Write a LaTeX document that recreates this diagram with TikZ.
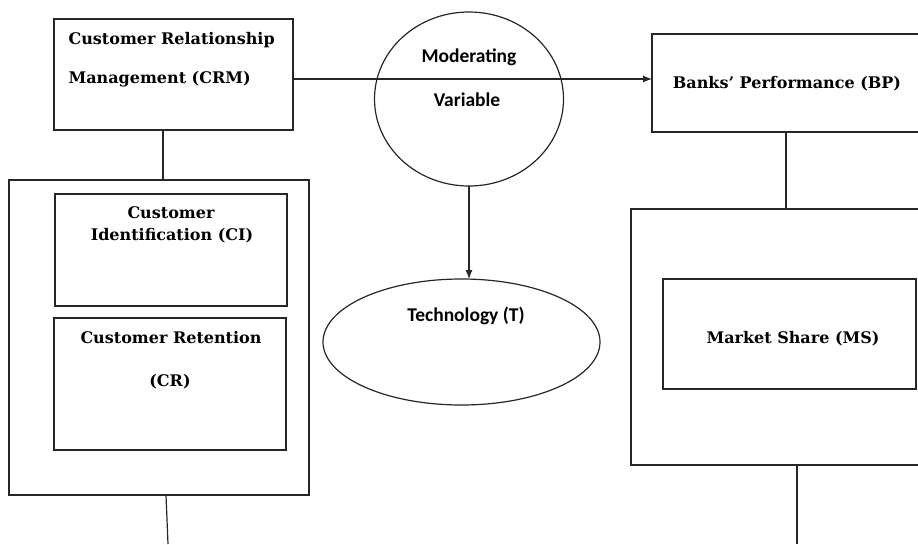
\documentclass[tikz,border=0pt]{standalone}
\usepackage{fontspec}
\newfontfamily\serifbox{DejaVu Serif}
\newfontfamily\calbox{Carlito}
\usetikzlibrary{arrows.meta,calc,shapes.geometric}
\begin{document}
\begin{tikzpicture}[x=1pt, y=-1pt, line width=1.2pt,
	box/.style={draw=black!85, inner sep=0pt, outer sep=0pt},
	oval/.style={draw=black!85, ellipse, inner sep=0pt, outer sep=0pt},
	txt/.style={font=\serifbox\bfseries\fontsize{16}{19}\selectfont, inner sep=0pt},
	ctxt/.style={font=\calbox\bfseries\fontsize{19.5}{23}\selectfont, inner sep=0pt}]
	\useasboundingbox (0,0) rectangle (918,544);
	\clip (0,0) rectangle (918,544);
	\node[box, minimum width=239pt, minimum height=111pt] (CRM) at (173.5,74.5) {};
	\node[box, minimum width=300pt, minimum height=315pt] (L) at (159,337.5) {};
	\node[box, minimum width=232pt, minimum height=112pt] (CI) at (171,250) {};
	\node[box, minimum width=232pt, minimum height=132pt] (CR) at (170,384) {};
	\node[oval, minimum width=189pt, minimum height=174pt] (MV) at (469,99) {};
	\node[oval, minimum width=277pt, minimum height=126pt] (T) at (461.5,342) {};
	\node[box, minimum width=288pt, minimum height=98pt] (BP) at (796,83) {};
	\node[box, minimum width=310pt, minimum height=256pt] (R) at (786,337) {};
	\node[box, minimum width=253pt, minimum height=110pt] (MS) at (789.5,334) {};
	\node[txt, anchor=base west] (crm1) at (68,44) {Customer Relationship};
	\node[txt, anchor=base west] (crm2) at (68,83) {Management (CRM)};
	\node[txt, anchor=base] (ci1) at (171,218) {Customer};
	\node[txt, anchor=base] (ci2) at (172,240) {Identification (CI)};
	\node[txt, anchor=base] (cr1) at (171,343) {Customer Retention};
	\node[txt, anchor=base] (cr2) at (170,386) {(CR)};
	\node[txt, anchor=base] (bp) at (787,88) {Banks’ Performance (BP)};
	\node[txt, anchor=base] (ms) at (793,343) {Market Share (MS)};
	\node[ctxt, anchor=base] (mv1) at (469,62) {Moderating};
	\node[ctxt, anchor=base] (mv2) at (467,106) {Variable};
	\node[ctxt, anchor=base] (t) at (466,321) {Technology (T)};
	\coordinate (mid) at (0,79);
	\coordinate (endL) at (168,544);
	\coordinate (endR) at (797,544);
	\draw[-{Latex[length=9pt,width=7pt]}, black!85] (CRM.east |- mid) -- (BP.west |- mid);
	\draw[-{Latex[length=9pt,width=7pt]}, black!85] (MV.south) -- (MV.south |- T.north);
	\draw[black!85] ([xshift=-10.5pt]CRM.south) -- ([xshift=-10.5pt]CRM.south |- L.north);
	\draw[black!85] (BP.south -| R.north) -- (R.north);
	\draw[black!85] ([xshift=7pt]L.south) -- (endL);
	\draw[black!85] (R.south -| endR) -- (endR);
\end{tikzpicture}
\end{document}
